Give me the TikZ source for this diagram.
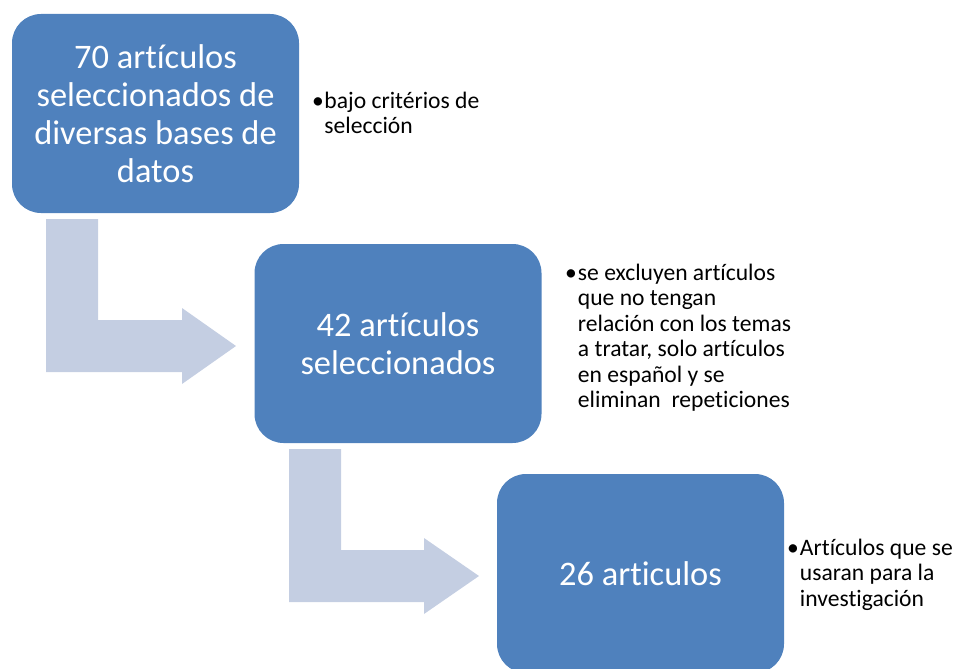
\documentclass[tikz,border=0pt]{standalone}
\usepackage{fontspec}
\setmainfont{Carlito}[Ligatures={NoCommon}]
\usetikzlibrary{calc}
\definecolor{boxblue}{RGB}{79,129,189}
\definecolor{arrowblue}{RGB}{196,206,226}
\tikzset{
  stepbox/.style={rectangle, rounded corners=29pt, fill=boxblue, draw=none,
    minimum width=287pt, minimum height=199pt, inner sep=0pt,
    text=white, align=center, font=\fontsize{34.4}{38}\selectfont},
  notetext/.style={anchor=base west, inner sep=0pt, text=black,
    font=\fontsize{23.6}{25.5}\selectfont},
  bentarrow/.style={fill=arrowblue, draw=none}
}
\begin{document}
\begin{tikzpicture}[x=1pt,y=-1pt]
\useasboundingbox (0,0) rectangle (962,669);
% bent arrows
\fill[bentarrow] (46,219) -- (98,219) -- (98,320) -- (182,320) -- (182,308)
  -- (236,346) -- (182,384) -- (182,372) -- (46,372) -- cycle;
\fill[bentarrow] (289,449) -- (341,449) -- (341,550) -- (424,550) -- (424,538)
  -- (479,576) -- (424,614) -- (424,602) -- (289,602) -- cycle;
% boxes
\node[stepbox] (b1) at (155.5,113.5) {70 artículos\\seleccionados de\\diversas bases de\\datos};
\node[stepbox] (b2) at (398,343.5) {42 artículos\\seleccionados};
\node[stepbox] (b3) at (640.5,573.5) {26 articulos};
% notes
\node[notetext] (n1) at (312,108) {\begin{tabular}[t]{@{}l@{\hspace{0.5pt}}l@{}}•&bajo critérios de\\&selección\end{tabular}};
\node[notetext] (n2) at (565,280) {\begin{tabular}[t]{@{}l@{\hspace{1pt}}l@{}}•&se excluyen artículos\\&que no tengan\\&relación con los temas\\&a tratar, solo artículos\\&en español y se\\&eliminan\ \ repeticiones\end{tabular}};
\node[notetext] (n3) at (787,555) {\begin{tabular}[t]{@{}l@{\hspace{1pt}}l@{}}•&Artículos que se\\&usaran para la\\&investigación\end{tabular}};
\end{tikzpicture}
\end{document}
